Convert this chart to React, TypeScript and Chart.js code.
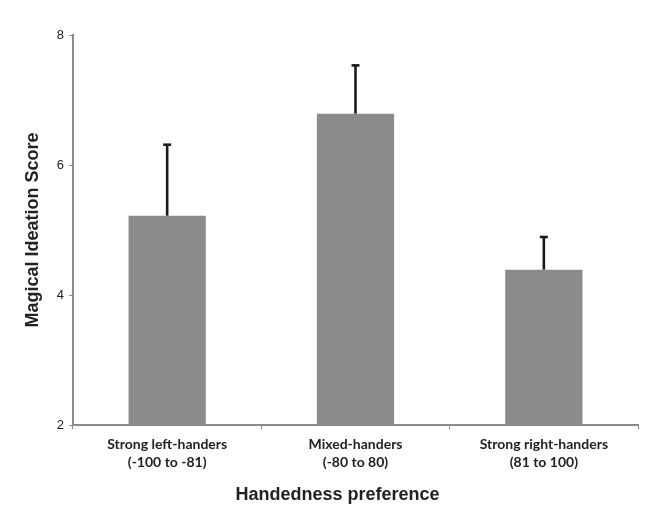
import React, { useEffect, useRef } from "react";
import { Chart, registerables } from "chart.js";

Chart.register(...registerables);

const categories: string[][] = [
  ["Strong left-handers", "(-100 to -81)"],
  ["Mixed-handers", "(-80 to 80)"],
  ["Strong right-handers", "(81 to 100)"],
];
const means = [5.22, 6.79, 4.39];
const upperErrors = [6.32, 7.54, 4.9];
const yMin = 2;
const yMax = 8;
const yStep = 2;
const yTitle = "Magical Ideation Score";
const xTitle = "Handedness preference";

const errorBarPlugin = {
  id: "errorBars",
  afterDatasetsDraw(chart: any) {
    const ctx = chart.ctx;
    const meta = chart.getDatasetMeta(0);
    const yScale = chart.scales.y;
    ctx.save();
    ctx.strokeStyle = "#1a1a1a";
    ctx.lineWidth = 2.6;
    meta.data.forEach((bar: any, i: number) => {
      const x = bar.x;
      const yTop = yScale.getPixelForValue(upperErrors[i]);
      const yBase = yScale.getPixelForValue(means[i]);
      ctx.beginPath();
      ctx.moveTo(x, yBase);
      ctx.lineTo(x, yTop);
      ctx.stroke();
      ctx.beginPath();
      ctx.moveTo(x - 4, yTop + 0.5);
      ctx.lineTo(x + 4, yTop + 0.5);
      ctx.stroke();
    });
    ctx.restore();
  },
};

const xTitlePlugin = {
  id: "xTitle",
  afterDraw(chart: any) {
    const ctx = chart.ctx;
    const area = chart.chartArea;
    ctx.save();
    ctx.font = "bold 18px 'Liberation Sans', Arial, sans-serif";
    ctx.fillStyle = "#222";
    ctx.textAlign = "center";
    ctx.textBaseline = "middle";
    ctx.fillText(xTitle, (area.left + area.right) / 2 - 18, 495);
    ctx.restore();
  },
};

export default function App() {
  const ref = useRef<HTMLCanvasElement | null>(null);
  useEffect(() => {
    document.body.style.margin = "0";
    const canvas = ref.current!;
    const chart = new Chart(canvas, {
      type: "bar",
      data: {
        labels: categories as any,
        datasets: [
          {
            data: means,
            backgroundColor: "#8b8b8e",
            borderWidth: 0,
            barPercentage: 0.41,
            categoryPercentage: 1,
          },
        ],
      },
      options: {
        animation: false,
        responsive: false,
        maintainAspectRatio: false,
        layout: { padding: { top: 35, right: 8, left: 0, bottom: 0 } },
        plugins: {
          legend: { display: false },
          tooltip: { enabled: false },
        },
        scales: {
          x: {
            afterFit: (s: any) => {
              s.height = 87;
            },
            grid: {
              display: true,
              drawOnChartArea: false,
              drawTicks: true,
              tickLength: 4,
              color: "#8a8a8a",
              offset: true,
            },
            border: { display: true, color: "#8a8a8a", width: 2 },
            ticks: {
              color: "#222",
              padding: 6,
              font: { family: "Lato, 'Liberation Sans', sans-serif", size: 14, weight: "bold", lineHeight: 1.3 },
              maxRotation: 0,
              autoSkip: false,
            },
          },
          y: {
            min: yMin,
            max: yMax,
            afterFit: (s: any) => {
              s.width = 73;
            },
            grid: {
              display: true,
              drawOnChartArea: false,
              drawTicks: true,
              tickLength: 4,
              color: "#8a8a8a",
            },
            border: { display: true, color: "#8a8a8a", width: 2 },
            ticks: {
              stepSize: yStep,
              color: "#222",
              padding: 5,
              font: { family: "'Liberation Sans', Arial, sans-serif", size: 13 },
            },
            title: {
              display: true,
              text: yTitle,
              color: "#222",
              font: { family: "'Liberation Sans', Arial, sans-serif", size: 18, weight: "bold" },
              padding: { top: 22, bottom: 0 },
            },
          },
        },
      },
      plugins: [errorBarPlugin, xTitlePlugin],
    });
    return () => chart.destroy();
  }, []);
  return <canvas ref={ref} width={646} height={512} style={{ display: "block" }} />;
}
